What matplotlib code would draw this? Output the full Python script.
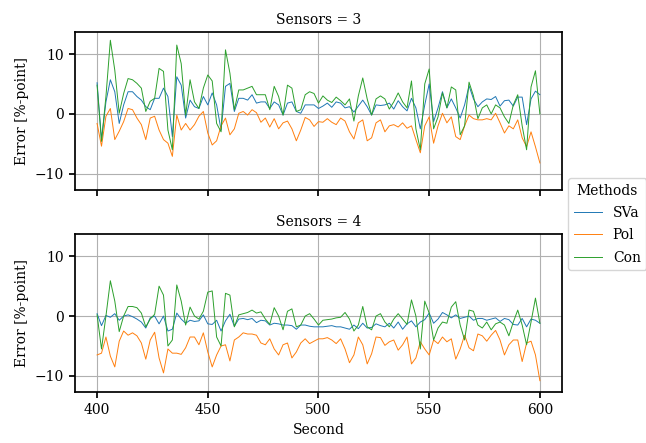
import numpy as np
import matplotlib
matplotlib.use("Agg")
import matplotlib.pyplot as plt

# time axis, one reading every 2 seconds
seconds = list(range(400, 602, 2))

# Sensors = 3
sva_3 = [5.2, -4.3, 2.0, 5.7, 3.7, -1.6, 1.5, 3.7, 3.7, 2.9,
         2.3, 1.2, 0.7, 2.6, 2.6, 4.3, 2.9, -3.8, 6.2, 4.8,
         -0.7, 2.3, 1.2, 0.9, 2.9, 1.5, 3.5, 1.5, -2.7, 4.6,
         5.1, 0.4, 2.6, 2.6, 2.3, 3.2, 1.8, 2.0, 2.0, 0.9,
         2.0, 1.5, -0.2, 1.8, 2.0, 0.4, 0.1, 1.5, 1.5, 1.5,
         0.9, 1.3, 1.8, 1.1, 2.0, 1.8, 1.0, 1.2, 0.3, 1.3,
         2.3, 1.2, -0.2, 1.5, 1.4, 1.5, 1.8, 0.8, 2.2, 1.2,
         0.5, 2.6, 1.0, -2.5, 1.5, 5.0, -1.3, 1.0, 3.7, 1.0,
         2.5, 1.0, -0.7, 1.5, 4.7, 2.5, 1.2, 2.0, 2.5, 2.4,
         2.9, 1.3, 2.2, 2.3, 1.3, 2.8, 2.8, -1.8, 2.5, 3.8,
         3.2]
pol_3 = [-1.6, -5.4, -0.4, 0.9, -4.3, -2.9, -1.3, 0.9, 0.7, -0.7,
         -1.8, -4.3, -0.7, -0.4, -2.7, -4.3, -4.9, -7.1, -0.2, -2.7,
         -1.6, -2.7, -1.8, -0.4, 0.4, -3.2, -5.2, -4.5, -2.0, -0.7,
         -3.5, -2.5, 0.1, 0.4, -0.2, 0.7, 0.2, -1.4, -0.7, -2.2,
         -0.8, -2.5, -1.5, -1.2, -2.5, -4.5, -2.7, -0.6, -1.0, -2.1,
         -1.3, -1.4, -0.8, -1.4, -1.8, -0.7, -1.2, -3.0, -4.2, -1.5,
         -1.0, -4.5, -4.0, -1.5, -1.0, -3.0, -2.0, -1.8, -2.2, -1.5,
         -2.4, -2.0, -4.3, -6.5, -2.0, -0.5, -4.9, -2.0, 0.1, -1.5,
         -0.5, -3.8, -4.3, -2.0, -0.2, -0.8, -1.0, -1.0, -0.8, -1.0,
         0.1, -1.5, -3.2, -2.0, -2.5, -1.0, -4.0, -5.5, -3.0, -5.5,
         -8.2]
con_3 = [4.8, -4.6, 2.9, 12.3, 7.3, 0.1, 3.4, 5.9, 5.7, 5.1,
         4.3, 0.4, 2.1, 2.6, 7.6, 7.1, -2.7, -6.0, 11.5, 8.4,
         -0.2, 5.7, 2.0, 0.9, 4.3, 6.5, 5.5, -1.6, -3.0, 10.7,
         6.8, 0.7, 4.0, 4.0, 4.3, 4.6, 3.2, 3.2, 3.2, 0.7,
         4.6, 2.9, -0.2, 4.8, 4.3, 0.4, 0.7, 3.2, 3.7, 3.4,
         1.8, 3.0, 2.3, 1.9, 2.8, 2.2, 1.5, 2.5, -1.2, 3.0,
         6.0, 2.5, -0.2, 2.5, 3.0, 2.5, 0.8, 2.0, 3.5, 2.0,
         1.0, 5.5, -2.5, -6.0, 5.0, 7.5, -2.5, -0.5, 3.5, 1.0,
         4.5, 4.0, -3.5, -2.0, 5.3, 3.0, -0.8, 1.0, 1.5, 0.0,
         1.5, 1.0, -0.5, -1.6, 1.5, 3.2, -2.0, -6.0, 4.5, 7.2,
         0.0]

# Sensors = 4
sva_4 = [0.4, -1.6, 0.1, -0.2, 0.4, -0.7, 0.0, 0.2, -0.1, -0.5,
         -1.0, -2.0, -0.3, 0.0, -1.3, 0.0, -2.5, -2.2, 0.5, -0.5,
         -1.2, -0.7, -0.9, -0.8, 0.2, -1.3, -1.4, -0.7, -2.5, -0.8,
         0.3, -1.7, -0.5, -0.4, -0.6, -0.4, -1.1, -0.7, -0.8, -1.5,
         -1.2, -1.3, -1.5, -1.5, -1.6, -2.2, -1.5, -1.5, -1.7, -1.8,
         -1.8, -1.8, -1.7, -1.6, -1.8, -1.8, -2.0, -2.2, -1.5, -2.1,
         -1.2, -2.0, -1.9, -1.3, -1.6, -1.8, -1.2, -2.0, -1.0, -2.2,
         -1.3, -0.8, -1.8, -1.0, -0.6, 0.5, -1.2, -0.5, 0.6, 0.2,
         -0.3, 0.2, -0.4, -0.2, 0.0, -0.7, -0.4, -0.4, -0.7, -0.5,
         -0.3, -0.9, -0.4, -0.6, -1.4, -1.5, -0.4, -1.8, -0.5, -0.7,
         -1.2]
pol_4 = [-6.5, -6.2, -3.5, -6.7, -8.5, -4.2, -2.5, -3.2, -2.8, -3.3,
         -4.5, -7.2, -4.0, -2.7, -7.0, -9.5, -5.5, -6.2, -6.2, -6.4,
         -5.3, -3.5, -3.5, -4.8, -2.8, -6.0, -8.5, -6.5, -5.0, -4.8,
         -7.5, -4.0, -3.5, -2.8, -3.0, -3.0, -3.2, -4.5, -4.8, -3.8,
         -5.5, -6.5, -4.8, -4.5, -7.0, -6.0, -4.5, -3.8, -4.6, -4.2,
         -3.8, -3.8, -3.6, -4.0, -4.6, -3.8, -5.5, -7.8, -6.5, -3.5,
         -4.8, -8.0, -6.3, -3.5, -3.6, -4.9, -4.3, -4.0, -5.7, -4.8,
         -3.5, -8.0, -7.0, -4.3, -5.5, -6.5, -4.0, -4.6, -3.5, -4.3,
         -3.8, -7.2, -5.5, -3.2, -5.3, -5.8, -3.0, -3.3, -4.2, -3.2,
         -2.4, -4.0, -6.5, -4.8, -4.0, -4.0, -7.6, -4.5, -4.2, -6.5,
         -10.8]
con_4 = [0.2, -5.5, 0.0, 5.9, 2.5, -2.6, 0.0, 1.6, 1.6, 1.4,
         0.5, -1.8, -0.5, 0.3, 5.0, 3.5, -5.0, -4.0, 5.2, 2.5,
         -1.5, 1.5, 0.0, -0.5, 0.8, 4.0, 4.2, -3.5, -5.0, 3.8,
         3.5, -1.8, 0.2, 0.4, 0.6, 1.0, 0.5, 0.7, -0.5, -1.4,
         1.4, 0.0, -2.3, 0.8, 1.2, -1.8, -1.5, 0.0, 0.4, -0.5,
         -1.5, -0.7, -0.6, -0.5, -0.3, -0.2, 0.6, -0.5, -2.5, -1.5,
         1.6, -1.8, -2.3, 0.0, 0.4, -1.0, -1.8, -0.5, 0.4, -0.5,
         -1.4, 2.7, 0.0, -5.5, 2.5, 0.5, -4.0, -2.0, -1.0, -1.2,
         1.5, 2.4, -1.5, -4.0, 1.0, 0.8, -1.5, -2.0, -1.0, -2.3,
         -1.3, -1.0, -1.5, -3.3, -1.0, 1.0, -1.5, -4.8, -1.0, 3.0,
         -1.2]

sensors = [3, 4]
methods = ["SVa", "Pol", "Con"]
series = {3: [sva_3, pol_3, con_3], 4: [sva_4, pol_4, con_4]}
colors = ["#1f77b4", "#ff7f0e", "#2ca02c"]

plt.rcParams["font.family"] = ["DejaVu Serif"]
plt.rcParams["font.size"] = 10

fig, axes = plt.subplots(2, 1, figsize=(6.46, 4.43), dpi=100, sharex=True, sharey=True)
fig.subplots_adjust(left=0.116, right=0.870, top=0.928, bottom=0.115, hspace=0.28)

for ax, n in zip(axes, sensors):
    for vals, name, c in zip(series[n], methods, colors):
        ax.plot(seconds, vals, color=c, lw=0.7, label=name)
    ax.set_title(f"Sensors = {n}", fontsize=10)
    ax.set_ylabel("Error [%-point]")
    ax.grid(True, color="#b0b0b0", lw=0.8)
    ax.set_axisbelow(True)
    for sp in ax.spines.values():
        sp.set_linewidth(1.25)
    ax.tick_params(width=1.25, length=4.5)

axes[0].set_ylim(-12.7, 13.7)
axes[0].set_yticks([-10, 0, 10])
axes[1].set_xticks([400, 450, 500, 550, 600])
axes[1].set_xlabel("Second")

handles, labels = axes[0].get_legend_handles_labels()
fig.legend(handles, labels, title="Methods", loc="center left",
           bbox_to_anchor=(0.869, 0.494), fontsize=10, title_fontsize=10,
           handlelength=2.0, labelspacing=0.6)

fig.savefig("out.png", dpi=100)
